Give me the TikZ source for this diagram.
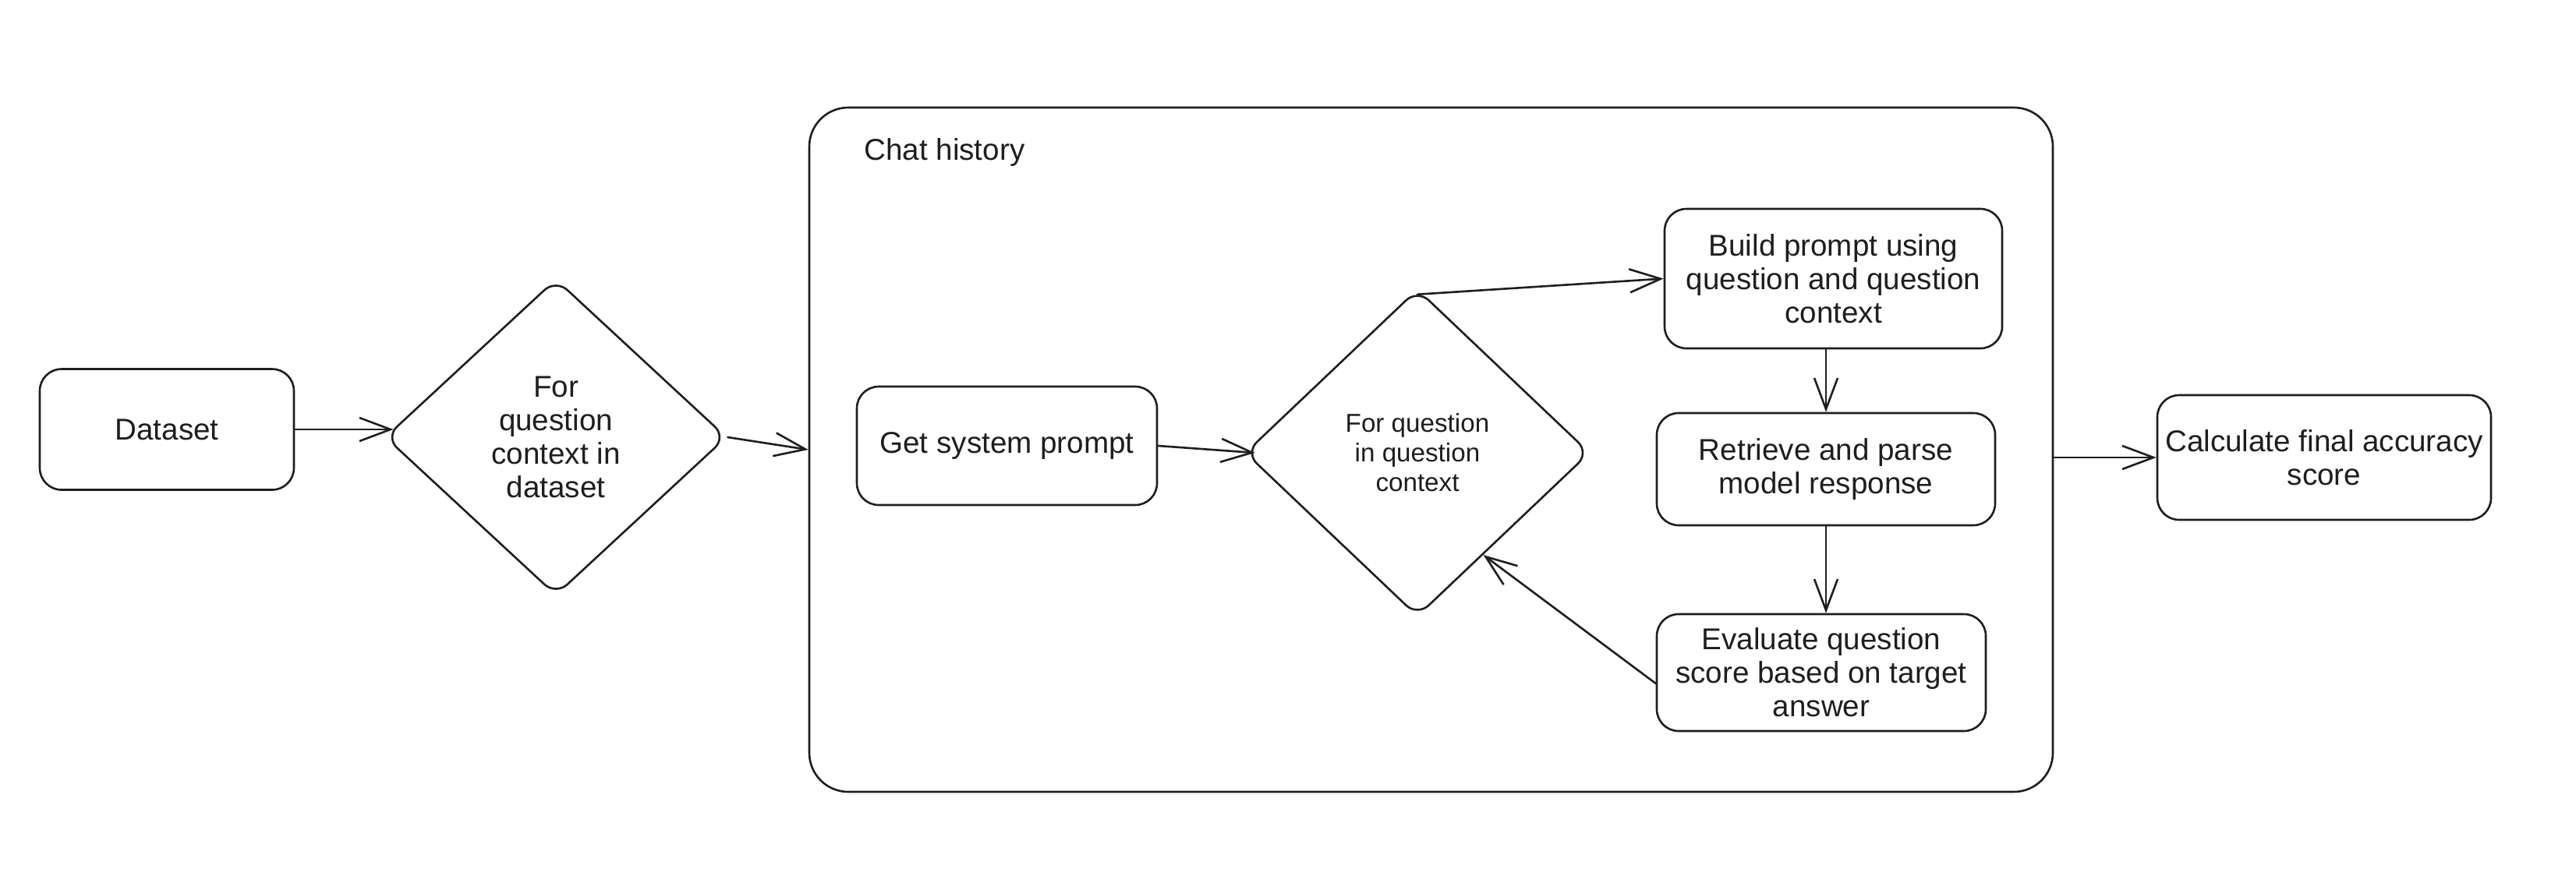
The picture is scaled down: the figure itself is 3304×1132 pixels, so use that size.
\documentclass[tikz,border=0pt]{standalone}
\usepackage{fontspec}
\setmainfont{Liberation Sans}
\usetikzlibrary{shapes.geometric,arrows.meta,calc}
\definecolor{ink}{HTML}{1E1E1E}
\begin{document}
\begin{tikzpicture}[x=0.5pt,y=-0.5pt,
  every node/.style={font=\fontsize{19.3}{21.5}\selectfont, text=ink},
  box/.style={draw=ink, line width=1.3pt, rounded corners=14pt, align=center, inner sep=0pt},
  dia/.style={draw=ink, line width=1.3pt, shape=diamond, rounded corners=10pt, align=center, inner sep=0pt},
  arr/.style={draw=ink, line width=1.3pt, line cap=round, -{Straight Barb[length=20pt,width=15pt,line width=1.3pt]}}]
\fill[white] (0,0) rectangle (3304,1132);
\useasboundingbox (0,0) rectangle (3304,1132);
% outer container
\node[draw=ink, line width=1.3pt, rounded corners=25pt, minimum width=797.5pt, minimum height=439pt, inner sep=0pt] (chat) at (1835.5,577) {};
\node[anchor=base west, inner sep=0pt] (chatlbl) at (1108,205) {Chat history};
% nodes
\node[box, minimum width=163pt, minimum height=77.5pt] (dataset) at (214,551) {Dataset};
\node[dia, minimum width=219pt, minimum height=203pt] (d1) at (713,561) {For\\question\\context in\\dataset};
\node[box, minimum width=192.5pt, minimum height=76pt] (gsp) at (1291.5,572) {Get system prompt};
\node[dia, font=\fontsize{16.6}{19}\selectfont, minimum width=221pt, minimum height=210pt] (d2) at (1818,581) {For question\\in question\\context};
\node[box, minimum width=216.5pt, minimum height=89.5pt] (build) at (2351.5,357.5) {Build prompt using\\question and question\\context};
\node[box, minimum width=217pt, minimum height=72pt] (retr) at (2342,602) {Retrieve and parse\\model response};
\node[box, minimum width=211pt, minimum height=75pt] (eval) at (2336,863) {Evaluate question\\score based on target\\answer};
\node[box, minimum width=214pt, minimum height=80pt] (calc) at (2981,587) {Calculate final accuracy\\score};
% connectors
\draw[arr] (dataset.east) -- ($(dataset.east -| d1.west)+(12,0)$);
\draw[arr] (d1.east) -- (chat.west);
\draw[arr] (gsp.east) -- ($(d2.west)+(14,0)$);
\draw[arr] ($(d2.north)+(0,8)$) -- (build.west);
\draw[arr] (retr.north |- build.south) -- (retr.north);
\draw[arr] (retr.south) -- (retr.south |- eval.north);
\draw[arr] ($(eval.west)+(0,14)$) -- ($(d2.east)!0.62!(d2.south)$);
\draw[arr] (chat.east |- calc.west) -- (calc.west);
\end{tikzpicture}
\end{document}
